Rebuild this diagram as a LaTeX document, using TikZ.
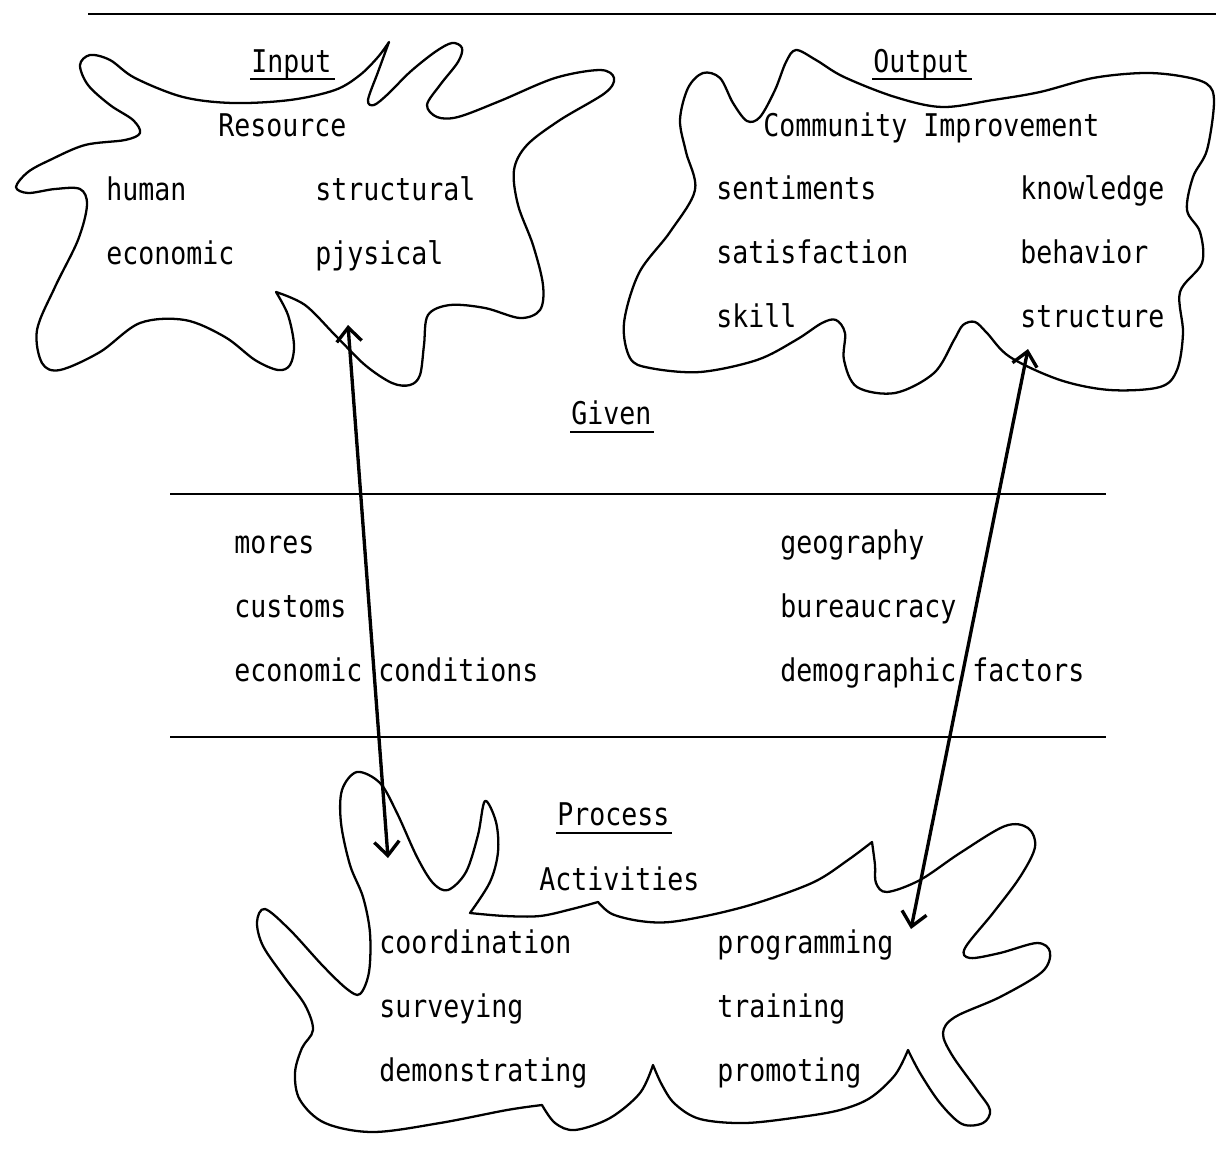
\documentclass[tikz,border=0pt]{standalone}
\usepackage{fontspec}
\setmainfont{DejaVu Sans Mono}[FakeStretch=0.85]
\usetikzlibrary{arrows.meta}
\begin{document}
\begin{tikzpicture}[x=0.02cm,y=-0.02cm,
  lbl/.style={anchor=base west, inner sep=0pt, font=\fontsize{17.8}{20}\selectfont},
  blob/.style={line width=1.3pt, line join=round, line cap=round},
  rulel/.style={line width=1.4pt},
  uline/.style={line width=1.2pt},
  link/.style={line width=1.9pt, {Straight Barb[length=0.28cm,width=0.5cm]}-{Straight Barb[length=0.28cm,width=0.5cm]}}]
\useasboundingbox (0,0) rectangle (1216,1150);

% rules
\coordinate (r0a) at (88,14);  \coordinate (r0b) at (1216,14);
\coordinate (r1a) at (170,494); \coordinate (r1b) at (1106,494);
\coordinate (r2a) at (170,737); \coordinate (r2b) at (1106,737);
\draw[rulel] (r0a) -- (r0b);
\draw[rulel] (r1a) -- (r1b);
\draw[rulel] (r2a) -- (r2b);

% Input blob
\draw[blob] plot[smooth,tension=0.55] coordinates {(389,42) (378,72) (368,100) (374,105) (388,94) (410,72) (435,52) (452,43) (462,48) (458,62) (440,85) (427,105) (437,117) (458,117) (500,101) (555,78) (600,70) (614,78) (605,93) (560,120) (527,145) (514,170) (518,205) (533,245) (543,285) (540,310) (520,318) (485,308) (450,305) (428,315) (424,345) (420,375) (410,385) (392,383) (365,365) (335,335) (305,305) (276,292)}
 --plot[smooth,tension=0.55] coordinates {(276,292) (288,315) (294,345) (290,365) (278,370) (255,360) (225,337) (185,320) (140,323) (100,352) (60,370) (42,363) (37,330) (55,287) (78,240) (87,205) (80,189) (55,189) (28,193) (16,187) (28,172) (50,160) (85,145) (125,140) (140,133) (133,120) (110,105) (88,85) (80,65) (90,55) (110,60) (135,78) (183,97) (233,103) (290,100) (335,90) (360,75) (378,57) (389,42)} -- cycle;

% Output blob
\draw[blob] plot[smooth cycle,tension=0.55] coordinates {(796,50) (816,60) (844,77) (895,97) (942,107) (993,100) (1040,92) (1093,78) (1143,73) (1180,76) (1207,84) (1214,102) (1207,150) (1193,177) (1187,210) (1200,232) (1202,263) (1180,292) (1183,333) (1177,370) (1160,387) (1110,390) (1060,380) (1010,357) (987,333) (975,322) (963,325) (954,340) (934,373) (895,393) (857,387) (844,360) (845,333) (836,320) (822,323) (796,340) (757,360) (700,372) (650,368) (630,358) (624,323) (639,273) (670,232) (695,190) (686,152) (680,120) (688,88) (703,73) (720,78) (733,103) (747,121) (760,117) (775,90) (786,62)};

% Process blob
\draw[blob] plot[smooth,tension=0.55] coordinates {(470,913) (505,916) (540,916) (572,909) (598,902)}
 --plot[smooth,tension=0.55] coordinates {(598,902) (612,914) (640,921) (670,922) (715,914) (760,902) (814,882) (848,860) (872,842)}
 --plot[smooth,tension=0.55] coordinates {(872,842) (875,865) (876,883) (887,892) (920,880) (960,853) (1005,826) (1028,828) (1035,847) (1020,877) (993,913) (965,948) (970,958) (1000,953) (1037,943) (1050,952) (1042,972) (1000,997) (955,1017) (943,1033) (952,1055) (977,1090) (990,1110) (983,1123) (962,1124) (940,1103) (920,1073) (908,1050)}
 --plot[smooth,tension=0.55] coordinates {(908,1050) (895,1075) (870,1098) (840,1110) (800,1117) (745,1123) (700,1119) (675,1104) (662,1085) (653,1065)}
 --plot[smooth,tension=0.55] coordinates {(653,1065) (640,1093) (610,1118) (575,1130) (555,1123) (542,1105)}
 --plot[smooth,tension=0.55] coordinates {(542,1105) (507,1110) (440,1123) (373,1132) (325,1123) (300,1100) (295,1073) (302,1048) (313,1030) (305,1005) (285,978) (263,946) (257,922) (265,909) (290,930) (323,966) (347,989) (360,994) (369,972) (370,933) (363,897) (350,865) (341,823) (342,790) (357,772) (380,783) (397,813) (417,857) (433,883) (448,890) (466,872) (478,835) (485,801) (496,822) (498,852) (490,882) (470,913)} -- cycle;

% Input texts
\node[lbl] (inp) at (251,72) {Input};
\draw[uline] ([xshift=-0.02cm,yshift=-0.14cm]inp.base west) -- ([xshift=0.06cm,yshift=-0.14cm]inp.base east);
\node[lbl] (res) at (218,136) {Resource};
\node[lbl] (hum) at (106,200) {human};
\node[lbl] (str) at (315,200) {structural};
\node[lbl] (eco) at (106,264) {economic};
\node[lbl] (phy) at (315,264) {pjysical};

% Output texts
\node[lbl] (outp) at (873,72) {Output};
\draw[uline] ([xshift=-0.02cm,yshift=-0.14cm]outp.base west) -- ([xshift=0.04cm,yshift=-0.14cm]outp.base east);
\node[lbl] (com) at (763,136) {Community Improvement};
\node[lbl] (sen) at (716,199) {sentiments};
\node[lbl] (kno) at (1020,199) {knowledge};
\node[lbl] (sat) at (716,263) {satisfaction};
\node[lbl] (beh) at (1020,263) {behavior};
\node[lbl] (ski) at (716,327) {skill};
\node[lbl] (stu) at (1020,327) {structure};

% Given texts
\node[lbl] (giv) at (571,424) {Given};
\draw[uline] ([xshift=-0.02cm,yshift=-0.16cm]giv.base west) -- ([xshift=0.04cm,yshift=-0.16cm]giv.base east);
\node[lbl] (mor) at (234,553) {mores};
\node[lbl] (cus) at (234,617) {customs};
\node[lbl] (ecc) at (234,681) {economic conditions};
\node[lbl] (geo) at (780,553) {geography};
\node[lbl] (bur) at (780,617) {bureaucracy};
\node[lbl] (dem) at (780,681) {demographic factors};

% Process texts
\node[lbl] (pro) at (557,825) {Process};
\draw[uline] ([xshift=-0.02cm,yshift=-0.16cm]pro.base west) -- ([xshift=0.04cm,yshift=-0.16cm]pro.base east);
\node[lbl] (act) at (539,890) {Activities};
\node[lbl] (coo) at (379,953) {coordination};
\node[lbl] (sur) at (379,1017) {surveying};
\node[lbl] (dmo) at (379,1081) {demonstrating};
\node[lbl] (prg) at (717,953) {programming};
\node[lbl] (tra) at (717,1017) {training};
\node[lbl] (prm) at (717,1081) {promoting};

% arrows
\coordinate (a1t) at (348,325);
\coordinate (a1b) at (388,858);
\coordinate (a2t) at (1028,349);
\coordinate (a2b) at (911,929);
\draw[link] (a1t) -- (a1b);
\draw[link] (a2t) -- (a2b);
\end{tikzpicture}
\end{document}
